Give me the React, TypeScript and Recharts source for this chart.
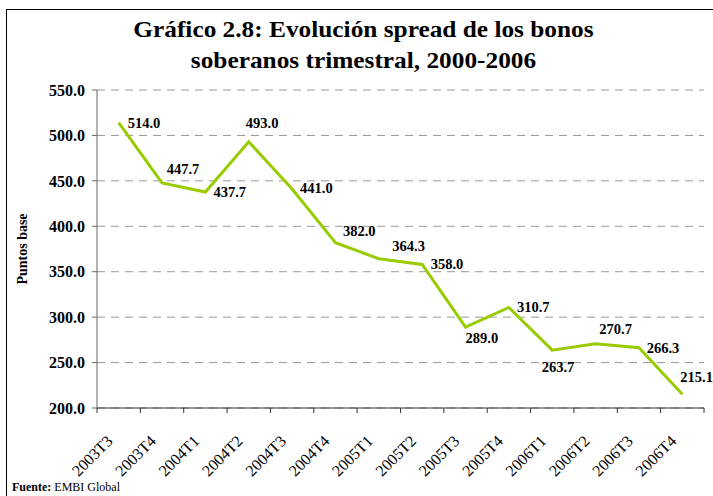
import React from 'react';
import { LineChart, Line, XAxis, YAxis, CartesianGrid, LabelList } from 'recharts';

const categories = ['2003T3', '2003T4', '2004T1', '2004T2', '2004T3', '2004T4', '2005T1', '2005T2', '2005T3', '2005T4', '2006T1', '2006T2', '2006T3', '2006T4'];
const spreadValues = [514.0, 447.7, 437.7, 493.0, 441.0, 382.0, 364.3, 358.0, 289.0, 310.7, 263.7, 270.7, 266.3, 215.1];
const yTicks = [200, 250, 300, 350, 400, 450, 500, 550];

// label placement offsets (style only): [dx of text start, dy of text centre]
const labelOffsets: [number, number][] = [
  [9, 0], [4.7, -14], [8, 0], [-3, -19], [8, -0.7], [7.5, -12], [13.5, -13],
  [8.5, 0], [0, 10.5], [8, 0], [-10.6, 17], [3.7, -15], [7.7, 0], [-2, -17],
];

const FONT = "'Liberation Serif', 'Times New Roman', serif";

const data = categories.map((c, i) => ({ pos: i + 0.5, cat: c, value: spreadValues[i] }));
const xTicks: number[] = categories.flatMap((_, i) => [i, i + 0.5]).concat([categories.length]);

const XTick = (props: any) => {
  const { x, y, payload } = props;
  const v = payload.value as number;
  if (Number.isInteger(v)) {
    return <line x1={x} y1={y} x2={x} y2={y + 5} stroke="#333" strokeWidth={1} />;
  }
  const idx = Math.floor(v);
  const ax = x - 5;
  const ay = y + 34;
  return (
    <text x={ax} y={ay} transform={`rotate(-45 ${ax} ${ay})`} textAnchor="end" fontFamily={FONT} fontSize={16} fill="#000">
      {categories[idx]}
    </text>
  );
};

const PointLabel = (props: any) => {
  const { x, y, value, index } = props;
  const off = labelOffsets[index] || [8, 0];
  return (
    <text x={x + off[0]} y={y + off[1]} textAnchor="start" dominantBaseline="central" fontFamily={FONT} fontWeight="bold" fontSize={14.5} fill="#000">
      {Number(value).toFixed(1)}
    </text>
  );
};

const YTitle = (props: any) => {
  const vb = props.viewBox || { x: 0, y: 90, width: 97, height: 318 };
  const cx = vb.x + 22;
  const cy = vb.y + vb.height / 2;
  return (
    <text x={cx} y={cy} transform={`rotate(-90 ${cx} ${cy})`} textAnchor="middle" dominantBaseline="central" fontFamily={FONT} fontWeight="bold" fontSize={14} fill="#000">
      Puntos base
    </text>
  );
};

export default function App() {
  return (
    <div style={{ position: 'absolute', left: 0, top: 0, width: 713, height: 496, overflow: 'hidden', background: '#fff', fontFamily: FONT }}>
      <div style={{ position: 'absolute', left: 6, top: 9, width: 760, height: 560, border: '1.5px solid #000', boxSizing: 'border-box' }} />
      <div style={{ position: 'absolute', left: 7, top: 14, width: 713, textAlign: 'center', fontWeight: 'bold', fontSize: 24, lineHeight: '31px', color: '#000', transform: 'scaleX(1.055)', transformOrigin: '357px 0' }}>
        Gráfico 2.8: Evolución spread de los bonos<br />soberanos trimestral, 2000-2006
      </div>
      <div style={{ position: 'absolute', left: 0, top: 0 }}>
        <LineChart width={713} height={496} data={data} margin={{ top: 90, right: 9, left: 0, bottom: 0 }}>
          <CartesianGrid vertical={false} stroke="#999" strokeDasharray="8 6" />
          <XAxis
            dataKey="pos"
            type="number"
            domain={[0, categories.length]}
            ticks={xTicks}
            interval={0}
            height={88}
            tickLine={false}
            tickSize={0}
            tickMargin={0}
            axisLine={{ stroke: '#333', strokeWidth: 1 }}
            tick={<XTick />}
          />
          <YAxis
            domain={[200, 550]}
            ticks={yTicks}
            interval={0}
            width={97}
            tickSize={5}
            tickMargin={7}
            tickFormatter={(v: number) => v.toFixed(1)}
            axisLine={{ stroke: '#666', strokeWidth: 1 }}
            tickLine={{ stroke: '#666' }}
            tick={{ fill: '#000', fontFamily: FONT, fontWeight: 'bold', fontSize: 16 }}
            label={<YTitle />}
          />
          <Line type="linear" dataKey="value" stroke="#99CC00" strokeWidth={3} dot={false} isAnimationActive={false}>
            <LabelList dataKey="value" content={<PointLabel />} />
          </Line>
        </LineChart>
      </div>
      <div style={{ position: 'absolute', left: 12, top: 479, fontSize: 12, lineHeight: '16px', color: '#000' }}>
        <b>Fuente:</b> EMBI Global
      </div>
    </div>
  );
}
